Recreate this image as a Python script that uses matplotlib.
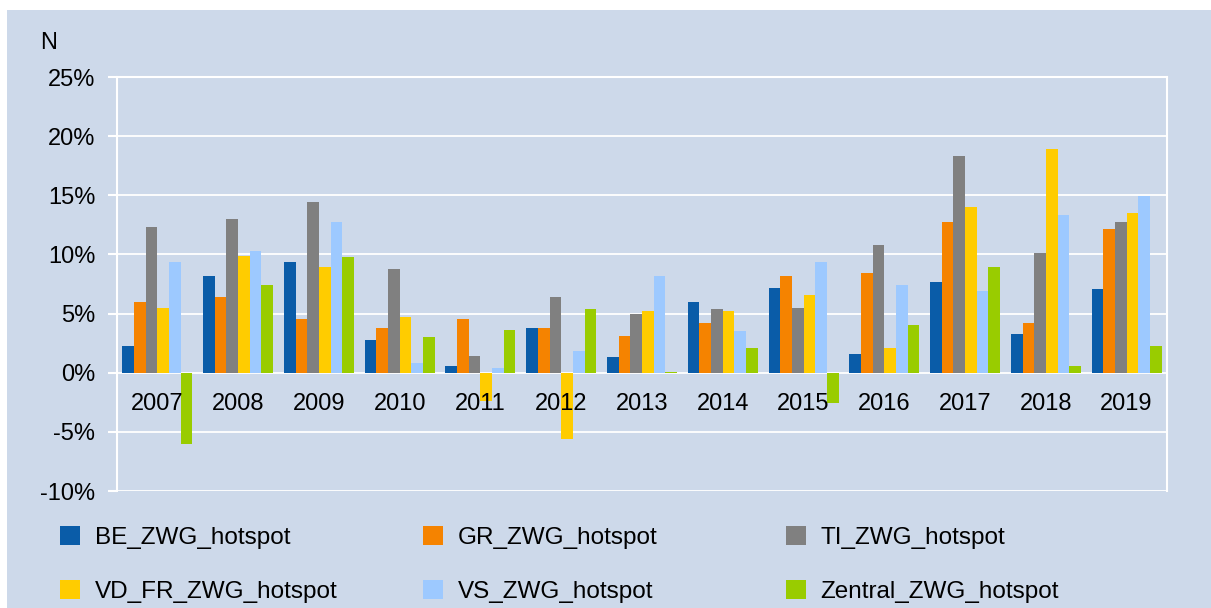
import matplotlib.pyplot as plt
import numpy as np
from matplotlib.patches import Rectangle, Patch

plt.rcParams['font.family'] = ['Liberation Sans', 'DejaVu Sans']

years = ['2007', '2008', '2009', '2010', '2011', '2012', '2013',
         '2014', '2015', '2016', '2017', '2018', '2019']

names = ['BE_ZWG_hotspot', 'GR_ZWG_hotspot', 'TI_ZWG_hotspot',
         'VD_FR_ZWG_hotspot', 'VS_ZWG_hotspot', 'Zentral_ZWG_hotspot']

# values in %
be = [2.3, 8.2, 9.4, 2.8, 0.6, 3.8, 1.3, 6.0, 7.2, 1.6, 7.7, 3.3, 7.05]
gr = [6.0, 6.4, 4.5, 3.8, 4.5, 3.8, 3.1, 4.2, 8.2, 8.4, 12.7, 4.2, 12.15]
ti = [12.3, 13.0, 14.4, 8.75, 1.45, 6.4, 5.0, 5.35, 5.5, 10.8, 18.3, 10.1, 12.7]
vd = [5.5, 9.9, 8.9, 4.7, -2.4, -5.6, 5.2, 5.2, 6.55, 2.1, 14.0, 18.9, 13.5]
vs = [9.4, 10.3, 12.7, 0.8, 0.4, 1.8, 8.2, 3.5, 9.4, 7.4, 6.9, 13.3, 14.9]
zentral = [-6.0, 7.4, 9.8, 3.0, 3.65, 5.35, 0.1, 2.1, -2.6, 4.0, 8.9, 0.6, 2.3]

series = [be, gr, ti, vd, vs, zentral]
colors = ['#0A5CA8', '#F58300', '#808080', '#FFCC00', '#9DC9FF', '#99CC00']

bg = '#CDD9EA'

fig = plt.figure(figsize=(12.11, 6.08), dpi=100, facecolor='white')
fig.patches.append(Rectangle((7 / 1211, 0), 1, 1 - 10 / 608, transform=fig.transFigure,
                             facecolor=bg, edgecolor='none', zorder=-10))

ax = fig.add_axes([117 / 1211, 1 - 491 / 608, 1050 / 1211, 414 / 608])
ax.set_facecolor(bg)

x = np.arange(len(years))
w = 0.1445
for i, vals in enumerate(series):
    ax.bar(x + (i - 2.5) * w, vals, w, color=colors[i], edgecolor='none', zorder=2)

ax.set_xlim(-0.5, len(years) - 0.5)
ax.set_ylim(-10, 25)
ax.set_yticks(np.arange(-10, 26, 5))
ax.yaxis.set_major_formatter(plt.FuncFormatter(lambda v, p: f'{v:.0f}%'))
ax.tick_params(axis='y', colors='white', length=6.5, width=1.5, pad=9,
               labelcolor='black', labelsize=17)
ax.yaxis.grid(True, color='white', lw=1.3)
ax.set_axisbelow(True)

ax.set_xticks(x, years)
ax.spines['bottom'].set_position(('data', 0))
ax.spines['bottom'].set_visible(False)
ax.tick_params(axis='x', length=0, pad=14.5, labelsize=17)
ax.xaxis.set_zorder(5)

for s in ['left', 'right', 'top']:
    ax.spines[s].set_color('white')
    ax.spines[s].set_linewidth(1.5)

fig.text(40 / 1211, 1 - 43 / 608, 'N', fontsize=17, ha='left', va='center')

handles = [Patch(facecolor=c, edgecolor='none') for c in colors]
col_x = [60, 423, 786]
for c in range(3):
    leg = fig.legend([handles[c], handles[c + 3]], [names[c], names[c + 3]],
                     loc='upper left', bbox_to_anchor=(col_x[c] / 1211, 1 - 526 / 608),
                     frameon=False, fontsize=17.5, handlelength=0.82, handleheight=0.82,
                     handletextpad=0.6, labelspacing=1.3, borderpad=0, borderaxespad=0)

fig.savefig('out.png', dpi=100, facecolor='white')
